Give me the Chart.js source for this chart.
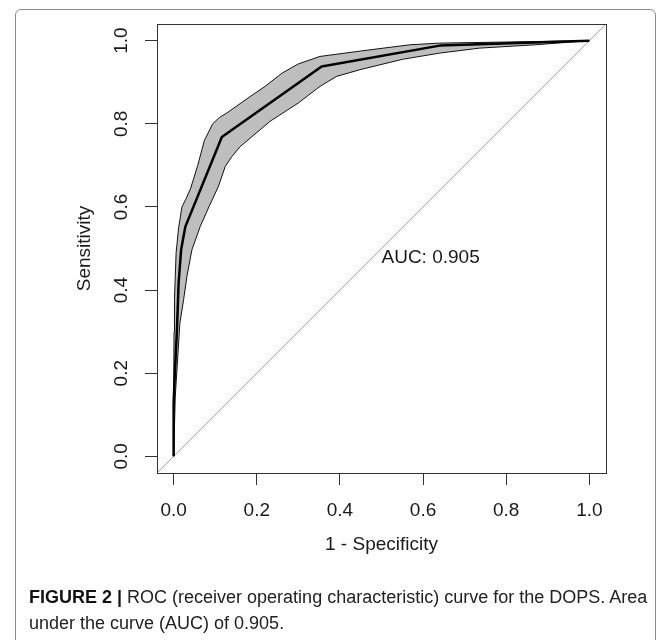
<!DOCTYPE html>
<html>
<head>
<meta charset="utf-8">
<script src="https://cdn.jsdelivr.net/npm/chart.js@4.4.1/dist/chart.umd.min.js"></script>
<style>
html,body{margin:0;padding:0;background:#fff;width:670px;height:640px;overflow:hidden;}
#wrap{position:relative;width:670px;height:640px;}
#holder{position:absolute;left:0;top:0;width:670px;height:640px;}
#frame{position:absolute;left:15px;top:9px;width:639px;height:700px;border:1px solid #8a8a8a;border-radius:6px;pointer-events:none;}
#cap{position:absolute;left:29px;top:584px;font-family:"Liberation Sans",Arial,sans-serif;font-size:18px;line-height:26px;color:#222;white-space:nowrap;}
#cap b{font-weight:bold;color:#111;}
</style>
</head>
<body>
<div id="wrap">
  <div id="holder"><canvas id="c"></canvas></div>
  <div id="frame"></div>
  <div id="cap"><b>FIGURE 2 |</b> ROC (receiver operating characteristic) curve for the DOPS. Area<br>under the curve (AUC) of 0.905.</div>
</div>
<script>
// ---- data (x = 1 - specificity, y = sensitivity) ----
const rocX = [0, 0, 0.003, 0.008, 0.012, 0.018, 0.028, 0.116, 0.356, 0.64, 1];
const rocY = [0, 0.13, 0.2, 0.305, 0.417, 0.497, 0.552, 0.768, 0.938, 0.988, 1];

const upperX = [0, 0, 0.001, 0.002, 0.006, 0.012, 0.02, 0.03, 0.041, 0.058, 0.074, 0.094, 0.11, 0.128, 0.179, 0.22, 0.261, 0.30, 0.352, 0.45, 0.568, 0.64, 1];
const upperY = [0, 0.13, 0.30, 0.377, 0.49, 0.55, 0.60, 0.62, 0.645, 0.70, 0.76, 0.80, 0.815, 0.826, 0.862, 0.89, 0.922, 0.944, 0.962, 0.975, 0.99, 0.994, 1];

const lowerX = [0, 0.004, 0.015, 0.024, 0.032, 0.044, 0.064, 0.087, 0.108, 0.124, 0.14, 0.16, 0.232, 0.30, 0.352, 0.392, 0.448, 0.55, 0.64, 0.736, 0.87, 1];
const lowerY = [0, 0.145, 0.32, 0.377, 0.433, 0.497, 0.553, 0.605, 0.65, 0.697, 0.721, 0.745, 0.806, 0.85, 0.89, 0.914, 0.93, 0.955, 0.97, 0.982, 0.99, 1];

const diagX = [-0.04, 1.04];
const diagY = [-0.04, 1.04];

const xTicks = [0, 0.2, 0.4, 0.6, 0.8, 1.0];
const yTicks = [0, 0.2, 0.4, 0.6, 0.8, 1.0];
const xTickLabels = ['0.0', '0.2', '0.4', '0.6', '0.8', '1.0'];
const yTickLabels = ['0.0', '0.2', '0.4', '0.6', '0.8', '1.0'];

const xTitle = '1 - Specificity';
const yTitle = 'Sensitivity';
const aucLabel = 'AUC: 0.905';
const aucPos = [0.5, 0.5];

// ---- build ----
const pts = (xs, ys) => xs.map((x, i) => ({x: x, y: ys[i]}));
const bandPts = pts(upperX, upperY).concat(pts(lowerX, lowerY).reverse());

const FONT = '"Liberation Sans", Arial, Helvetica, sans-serif';
Chart.defaults.font.family = FONT;
Chart.defaults.color = '#1a1a1a';

const extras = {
  id: 'extras',
  afterDatasetsDraw(chart) {
    const {ctx, scales} = chart;
    ctx.save();
    ctx.fillStyle = '#1a1a1a';
    ctx.font = '19px ' + FONT;
    ctx.textAlign = 'left';
    ctx.textBaseline = 'alphabetic';
    ctx.fillText(aucLabel, scales.x.getPixelForValue(aucPos[0]), scales.y.getPixelForValue(aucPos[1]) + 14);
    ctx.restore();
  },
  afterDraw(chart) {
    const {ctx, chartArea: a} = chart;
    ctx.save();
    ctx.strokeStyle = '#333';
    ctx.lineWidth = 1;
    ctx.strokeRect(Math.round(a.left) + 0.5, Math.round(a.top) + 0.5,
                   Math.round(a.right - a.left), Math.round(a.bottom - a.top));
    ctx.restore();
  }
};

new Chart(document.getElementById('c'), {
  type: 'line',
  data: {
    datasets: [
      {
        label: 'ROC',
        data: pts(rocX, rocY),
        borderColor: '#000',
        borderWidth: 2.5,
        borderJoinStyle: 'round',
        pointRadius: 0,
        fill: false,
        tension: 0,
        order: 0
      },
      {
        label: 'CI',
        data: bandPts,
        borderColor: '#111',
        borderWidth: 1,
        backgroundColor: '#bebebe',
        pointRadius: 0,
        fill: 'shape',
        tension: 0,
        order: 1
      },
      {
        label: 'diag',
        data: pts(diagX, diagY),
        borderColor: '#a6a6a6',
        borderWidth: 1,
        pointRadius: 0,
        fill: false,
        order: 2
      }
    ]
  },
  options: {
    responsive: true,
    maintainAspectRatio: false,
    animation: false,
    events: [],
    layout: {autoPadding: false, padding: {left: 0, top: 24, right: 64, bottom: 80}},
    plugins: {legend: {display: false}, tooltip: {enabled: false}},
    scales: {
      x: {
        type: 'linear',
        min: -0.04,
        max: 1.04,
        afterBuildTicks: s => { s.ticks = xTicks.map(v => ({value: v})); },
        afterFit: s => { s.height = 87; },
        ticks: {
          callback: (v, i) => xTickLabels[i],
          font: {size: 19},
          color: '#1a1a1a',
          padding: 14,
          maxRotation: 0,
          autoSkip: false
        },
        grid: {drawOnChartArea: false, drawTicks: true, tickLength: 12, color: '#333', lineWidth: 1},
        border: {display: false},
        title: {display: true, text: xTitle, font: {size: 19}, color: '#1a1a1a', padding: {top: 0, bottom: 3.6}}
      },
      y: {
        type: 'linear',
        min: -0.04,
        max: 1.04,
        afterBuildTicks: s => { s.ticks = yTicks.map(v => ({value: v})); },
        afterFit: s => { s.width = 157; },
        ticks: {
          callback: (v, i) => yTickLabels[i],
          font: {size: 19},
          color: '#1a1a1a',
          padding: 10,
          minRotation: 90,
          maxRotation: 90,
          crossAlign: 'center',
          autoSkip: false
        },
        grid: {drawOnChartArea: false, drawTicks: true, tickLength: 12, color: '#333', lineWidth: 1},
        border: {display: false},
        title: {display: true, text: yTitle, font: {size: 19}, color: '#1a1a1a', padding: {top: 73.6, bottom: 0}}
      }
    }
  },
  plugins: [extras]
});
</script>
</body>
</html>
